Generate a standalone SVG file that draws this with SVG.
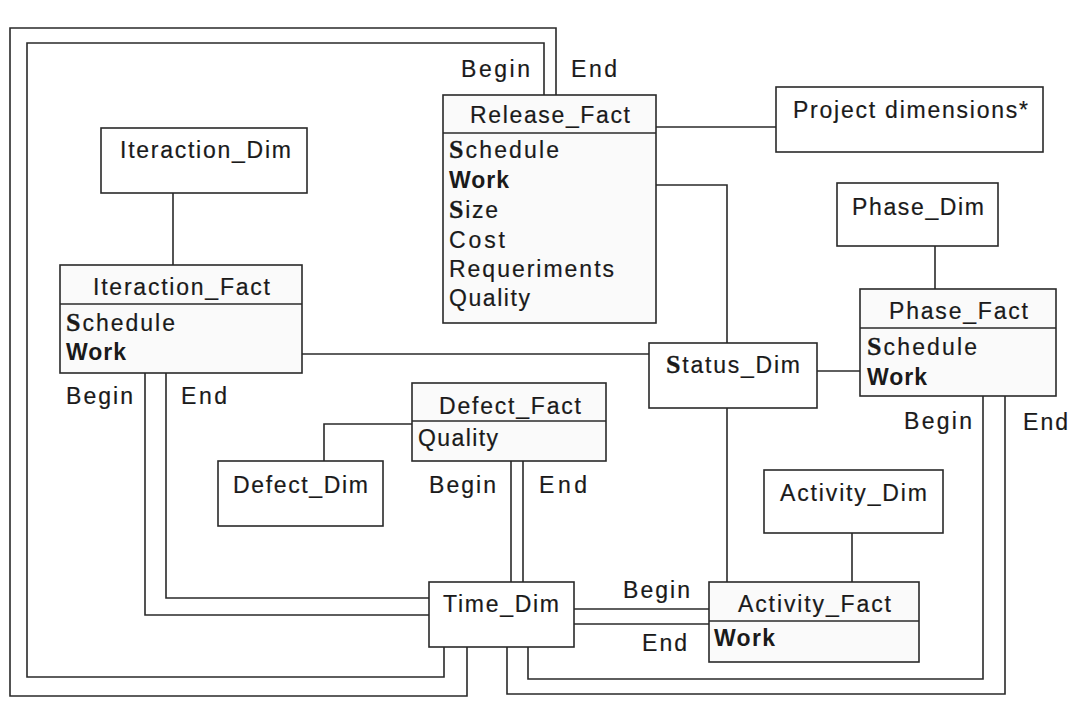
<svg xmlns="http://www.w3.org/2000/svg" width="1076" height="708" viewBox="0 0 1076 708">
<style>
.box{fill:#fff;stroke:#2a2a2a;stroke-width:1.6}
.fact{fill:#fafafa;stroke:#2a2a2a;stroke-width:1.6}
.sep{stroke:#2a2a2a;stroke-width:1.6}
.c{fill:none;stroke:#2a2a2a;stroke-width:1.6}
text{font-family:"Liberation Sans",Arial,sans-serif;font-size:23px;fill:#1a1a1a;stroke:#1a1a1a;stroke-width:0.2}
.b{font-weight:bold;stroke-width:0}
.s{font-family:"Liberation Serif","Times New Roman",serif;font-weight:bold;font-size:26px;stroke-width:0.3}
</style>
<rect width="1076" height="708" fill="#fff"/>
<g id="connectors">
<path class="c" d="M173 193V265"/>
<path class="c" d="M656 127H776"/>
<path class="c" d="M656 185H727V343"/>
<path class="c" d="M935 246V289"/>
<path class="c" d="M817 371H860"/>
<path class="c" d="M302 354H649"/>
<path class="c" d="M727 408V582"/>
<path class="c" d="M852 533V582"/>
<path class="c" d="M412 424H324V461"/>
<path class="c" d="M511 461V582"/>
<path class="c" d="M523 461V582"/>
<path class="c" d="M145 373V615H429"/>
<path class="c" d="M166 373V598H429"/>
<path class="c" d="M544 95V43H27V677H444V647"/>
<path class="c" d="M556 95V28H10V696H467V647"/>
<path class="c" d="M983 396V679H528V647"/>
<path class="c" d="M1005 396V694H507V647"/>
<path class="c" d="M574 609H709"/>
<path class="c" d="M574 624H709"/>
<text x="461" y="77" textLength="69" lengthAdjust="spacing">Begin</text>
<text x="571" y="77" textLength="46" lengthAdjust="spacing">End</text>
<text x="66" y="404" textLength="67" lengthAdjust="spacing">Begin</text>
<text x="181" y="404" textLength="46" lengthAdjust="spacing">End</text>
<text x="429" y="493" textLength="67" lengthAdjust="spacing">Begin</text>
<text x="539" y="493" textLength="48" lengthAdjust="spacing">End</text>
<text x="904" y="429" textLength="68" lengthAdjust="spacing">Begin</text>
<text x="1023" y="430" textLength="45" lengthAdjust="spacing">End</text>
<text x="623" y="598" textLength="67" lengthAdjust="spacing">Begin</text>
<text x="642" y="651" textLength="45" lengthAdjust="spacing">End</text>
</g>
<g id="release_fact">
<rect class="fact" x="443" y="95" width="213" height="228"/>
<line class="sep" x1="443" y1="133" x2="656" y2="133"/>
<text x="470" y="123" textLength="160" lengthAdjust="spacing">Release_Fact</text>
<text x="449" y="158" textLength="110" lengthAdjust="spacing"><tspan class="s">S</tspan>chedule</text>
<text x="449" y="188" class="b" textLength="60" lengthAdjust="spacing">Work</text>
<text x="449" y="218" textLength="49" lengthAdjust="spacing"><tspan class="s">S</tspan>ize</text>
<text x="449" y="248" textLength="56" lengthAdjust="spacing">Cost</text>
<text x="449" y="277" textLength="165" lengthAdjust="spacing">Requeriments</text>
<text x="449" y="306" textLength="81" lengthAdjust="spacing">Quality</text>
</g>
<g id="project_dimensions">
<rect class="box" x="776" y="87" width="267" height="65"/>
<text x="793" y="118" textLength="235" lengthAdjust="spacing">Project dimensions*</text>
</g>
<g id="iteraction_dim">
<rect class="box" x="101" y="128" width="206" height="65"/>
<text x="120" y="158" textLength="171" lengthAdjust="spacing">Iteraction_Dim</text>
</g>
<g id="iteraction_fact">
<rect class="fact" x="60" y="265" width="242" height="108"/>
<line class="sep" x1="60" y1="304" x2="302" y2="304"/>
<text x="93" y="295" textLength="177" lengthAdjust="spacing">Iteraction_Fact</text>
<text x="66" y="331" textLength="109" lengthAdjust="spacing"><tspan class="s">S</tspan>chedule</text>
<text x="66" y="360" class="b" textLength="60" lengthAdjust="spacing">Work</text>
</g>
<g id="phase_dim">
<rect class="box" x="837" y="183" width="161" height="63"/>
<text x="852" y="215" textLength="132" lengthAdjust="spacing">Phase_Dim</text>
</g>
<g id="phase_fact">
<rect class="fact" x="860" y="289" width="196" height="107"/>
<line class="sep" x1="860" y1="328" x2="1056" y2="328"/>
<text x="889" y="319" textLength="139" lengthAdjust="spacing">Phase_Fact</text>
<text x="867" y="355" textLength="110" lengthAdjust="spacing"><tspan class="s">S</tspan>chedule</text>
<text x="867" y="385" class="b" textLength="60" lengthAdjust="spacing">Work</text>
</g>
<g id="status_dim">
<rect class="box" x="649" y="343" width="168" height="65"/>
<text x="666" y="373" textLength="134" lengthAdjust="spacing"><tspan class="s">S</tspan>tatus_Dim</text>
</g>
<g id="defect_fact">
<rect class="fact" x="412" y="383" width="194" height="78"/>
<line class="sep" x1="412" y1="421" x2="606" y2="421"/>
<text x="439" y="414" textLength="142" lengthAdjust="spacing">Defect_Fact</text>
<text x="418" y="446" textLength="80" lengthAdjust="spacing">Quality</text>
</g>
<g id="defect_dim">
<rect class="box" x="218" y="461" width="165" height="65"/>
<text x="233" y="493" textLength="135" lengthAdjust="spacing">Defect_Dim</text>
</g>
<g id="activity_dim">
<rect class="box" x="764" y="470" width="179" height="63"/>
<text x="780" y="501" textLength="147" lengthAdjust="spacing">Activity_Dim</text>
</g>
<g id="activity_fact">
<rect class="fact" x="709" y="582" width="210" height="80"/>
<line class="sep" x1="709" y1="621" x2="919" y2="621"/>
<text x="738" y="612" textLength="153" lengthAdjust="spacing">Activity_Fact</text>
<text x="714" y="646" class="b" textLength="61" lengthAdjust="spacing">Work</text>
</g>
<g id="time_dim">
<rect class="box" x="429" y="582" width="145" height="65"/>
<text x="443" y="612" textLength="116" lengthAdjust="spacing">Time_Dim</text>
</g>
</svg>
